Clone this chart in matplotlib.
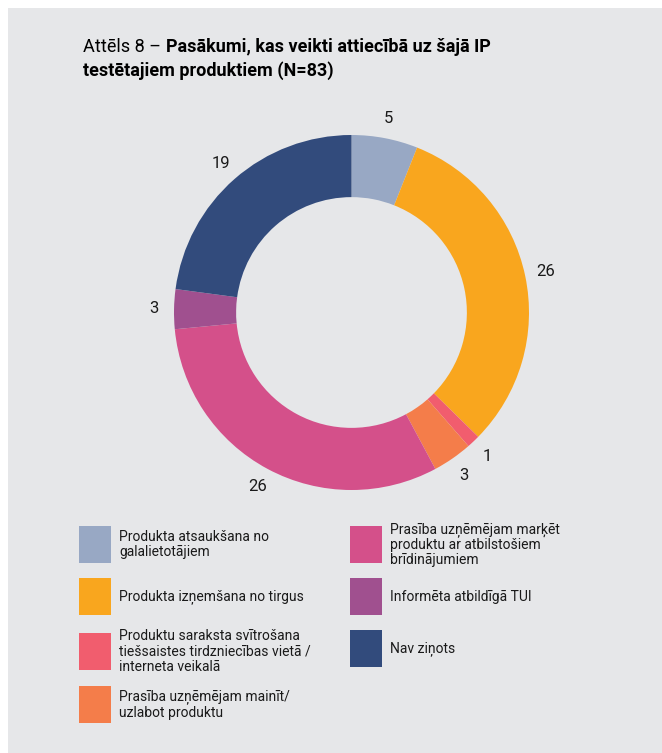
import matplotlib
matplotlib.use("Agg")
import matplotlib.pyplot as plt
from matplotlib.patches import Rectangle

categories = [
    "Produkta atsaukšana no\ngalalietotājiem",
    "Produkta izņemšana no tirgus",
    "Produktu saraksta svītrošana\ntiešsaistes tirdzniecības vietā /\ninterneta veikalā",
    "Prasība uzņēmējam mainīt/\nuzlabot produktu",
    "Prasība uzņēmējam marķēt\nproduktu ar atbilstošiem\nbrīdinājumiem",
    "Informēta atbildīgā TUI",
    "Nav ziņots",
]
values = [5, 26, 1, 3, 26, 3, 19]
colors = ["#98a8c4", "#f9a61e", "#f15d6e", "#f47d4a", "#d4508a", "#a0508f", "#324b7c"]

FONT = "Roboto"
W, H = 662, 753
fig = plt.figure(figsize=(W / 100, H / 100), dpi=100, facecolor="white")
fig.patches.append(Rectangle((8 / W, 0), 1 - 8 / W, 1 - 8 / H, transform=fig.transFigure,
                             facecolor="#e6e7e9", edgecolor="none", zorder=-10))

# Title
t1 = fig.text(83 / W, 1 - 52 / H, "Attēls 8 – ", fontsize=13, family=FONT, va="baseline", ha="left")
fig.canvas.draw()
r = fig.canvas.get_renderer()
bb = t1.get_window_extent(r)
fig.text(bb.x1 / W, 1 - 52 / H, "Pasākumi, kas veikti attiecībā uz šajā IP", fontsize=13,
         family=FONT, weight="bold", va="baseline", ha="left")
fig.text(83 / W, 1 - 76 / H, "testētajiem produktiem (N=83)", fontsize=13,
         family=FONT, weight="bold", va="baseline", ha="left")

# Donut
cx, cy, R = 351.5, 312.5, 177.5
ax = fig.add_axes([(cx - R) / W, (H - cy - R) / H, 2 * R / W, 2 * R / H])
total = sum(values)
wedges, texts, autotexts = ax.pie(
    values, colors=colors, startangle=90, counterclock=False, radius=1,
    wedgeprops=dict(width=0.35, edgecolor="none"),
    autopct=lambda p: f"{round(p * total / 100)}", pctdistance=1.115,
    textprops=dict(fontsize=12, family=FONT, color="#1a1a1a"))
ax.set_xlim(-1, 1)
ax.set_ylim(-1, 1)
ax.axis("off")

# Legend (manual, two columns)
left_col = [0, 1, 2, 3]
right_col = [4, 5, 6]
left_tops = [526, 578, 633, 686]
right_tops = [526, 578, 630]
sq_w, sq_h = 32, 37
for idxs, tops, x0, tx in [(left_col, left_tops, 79, 119), (right_col, right_tops, 350, 390)]:
    for i, top in zip(idxs, tops):
        fig.patches.append(Rectangle((x0 / W, 1 - (top + sq_h) / H), sq_w / W, sq_h / H,
                                     transform=fig.transFigure, facecolor=colors[i],
                                     edgecolor="none"))
        nlines = categories[i].count("\n") + 1
        yc = top + sq_h / 2
        fig.text(tx / W, 1 - yc / H, categories[i], fontsize=10, family=FONT,
                 va="center", ha="left", linespacing=1.1, color="#1a1a1a")

fig.savefig("out.png", dpi=100, facecolor=fig.get_facecolor())
